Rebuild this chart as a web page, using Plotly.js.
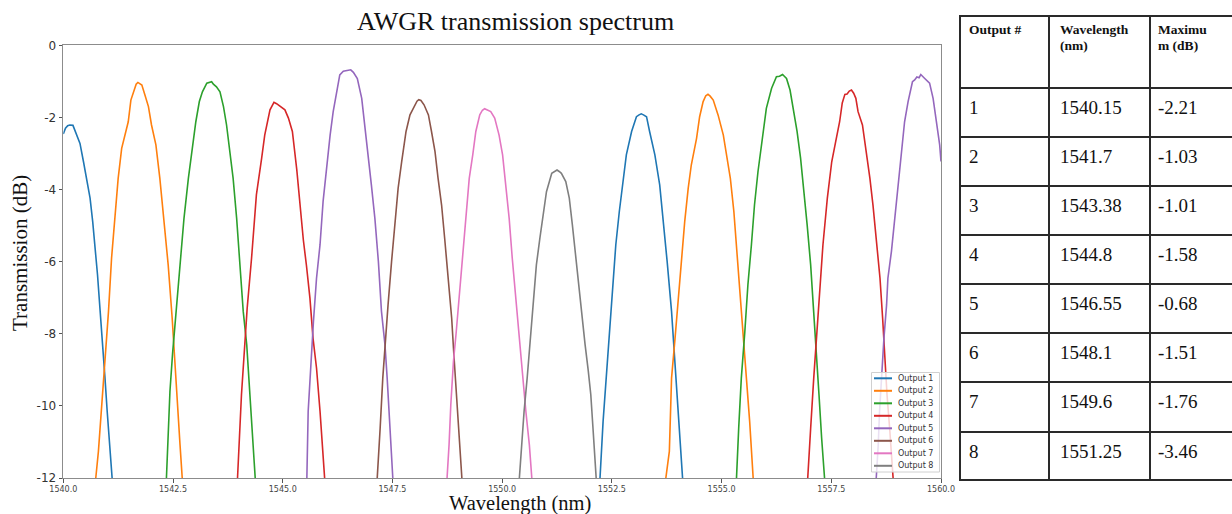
<!DOCTYPE html>
<html>
<head>
<meta charset="utf-8">
<script src="https://cdn.plot.ly/plotly-3.0.1.min.js"></script>
<style>
  html, body { margin: 0; padding: 0; background: #ffffff; }
  #chart { width: 1232px; height: 514px; }
</style>
</head>
<body>
<div id="chart"></div>
<script>
// Measured AWGR output spectra: wavelength (nm) and transmission (dB).
// A null entry separates two diffraction orders of the same output.
const out1Wl = [1540.00, 1540.05, 1540.10, 1540.15, 1540.22, 1540.29, 1540.38, 1540.46, 1540.55, 1540.61, 1540.67, 1540.72, 1540.78, 1540.84, 1540.90, 1540.95, 1541.00, 1541.06, 1541.12, 1541.17,
  null,
  1552.16, 1552.23, 1552.30, 1552.38, 1552.45, 1552.53, 1552.59, 1552.67, 1552.74, 1552.83, 1552.95, 1553.06, 1553.12, 1553.17, 1553.22, 1553.29, 1553.36, 1553.48, 1553.59, 1553.67, 1553.76, 1553.86, 1553.91, 1553.96, 1554.01, 1554.11, 1554.16];
const out1Db = [-2.46, -2.30, -2.23, -2.21, -2.22, -2.44, -2.72, -3.23, -3.87, -4.24, -4.89, -5.53, -6.37, -7.38, -8.31, -9.23, -10.15, -11.08, -12.00, -12.95,
  null,
  -12.95, -12.00, -10.43, -9.05, -7.84, -6.46, -5.53, -4.61, -3.87, -3.04, -2.39, -1.98, -1.93, -1.90, -1.93, -1.98, -2.39, -3.04, -3.87, -4.80, -6.00, -7.38, -8.31, -9.23, -10.43, -12.00, -12.90];

const out2Wl = [1540.69, 1540.74, 1540.80, 1540.87, 1540.95, 1541.03, 1541.10, 1541.18, 1541.25, 1541.33, 1541.41, 1541.48, 1541.54, 1541.61, 1541.66, 1541.70, 1541.74, 1541.79, 1541.86, 1541.94, 1542.01, 1542.11, 1542.20, 1542.29, 1542.39, 1542.48, 1542.54, 1542.60, 1542.66, 1542.71, 1542.76,
  null,
  1553.68, 1553.73, 1553.81, 1553.86, 1553.94, 1554.01, 1554.09, 1554.16, 1554.24, 1554.31, 1554.43, 1554.50, 1554.58, 1554.64, 1554.69, 1554.74, 1554.81, 1554.92, 1555.04, 1555.13, 1555.20, 1555.28, 1555.35, 1555.43, 1555.50, 1555.57, 1555.64, 1555.72, 1555.77];
const out2Db = [-12.90, -12.00, -11.26, -10.15, -8.86, -7.38, -5.90, -4.61, -3.69, -2.86, -2.49, -2.12, -1.52, -1.24, -1.08, -1.03, -1.06, -1.10, -1.38, -1.70, -2.21, -2.76, -3.69, -4.80, -6.09, -7.55, -8.85, -9.97, -11.08, -12.00, -12.90,
  null,
  -12.90, -12.00, -11.26, -9.23, -8.12, -7.01, -6.00, -4.89, -3.96, -3.32, -2.58, -1.98, -1.56, -1.40, -1.36, -1.41, -1.52, -1.93, -2.49, -3.23, -3.69, -4.61, -5.72, -6.92, -8.03, -9.23, -10.43, -12.00, -12.90];

const out3Wl = [1542.30, 1542.35, 1542.39, 1542.43, 1542.49, 1542.57, 1542.66, 1542.75, 1542.85, 1542.95, 1543.02, 1543.10, 1543.17, 1543.27, 1543.33, 1543.38, 1543.42, 1543.49, 1543.57, 1543.65, 1543.72, 1543.80, 1543.87, 1543.95, 1544.02, 1544.10, 1544.18, 1544.25, 1544.31, 1544.37, 1544.42,
  null,
  1555.29, 1555.34, 1555.39, 1555.45, 1555.53, 1555.60, 1555.68, 1555.75, 1555.83, 1555.93, 1556.02, 1556.14, 1556.25, 1556.32, 1556.36, 1556.39, 1556.43, 1556.48, 1556.56, 1556.65, 1556.72, 1556.80, 1556.87, 1556.95, 1557.03, 1557.10, 1557.16, 1557.22, 1557.28, 1557.35, 1557.40];
const out3Db = [-12.90, -12.00, -10.80, -9.60, -8.55, -7.45, -6.00, -4.80, -3.69, -2.76, -2.12, -1.56, -1.29, -1.05, -1.02, -1.01, -1.08, -1.15, -1.29, -1.70, -2.21, -2.95, -3.69, -4.80, -6.00, -7.38, -8.31, -9.69, -11.08, -12.00, -12.90,
  null,
  -12.90, -12.00, -10.62, -9.23, -7.94, -6.64, -5.53, -4.43, -3.50, -2.58, -1.75, -1.19, -0.87, -0.86, -0.83, -0.81, -0.86, -0.92, -1.24, -1.84, -2.39, -3.13, -3.96, -4.98, -6.09, -7.38, -8.31, -9.69, -10.89, -12.00, -12.90];

const out4Wl = [1543.92, 1543.97, 1544.06, 1544.15, 1544.19, 1544.29, 1544.40, 1544.52, 1544.59, 1544.71, 1544.80, 1544.86, 1544.94, 1545.05, 1545.13, 1545.22, 1545.32, 1545.39, 1545.47, 1545.54, 1545.62, 1545.69, 1545.77, 1545.85, 1545.92, 1545.96, 1546.00,
  null,
  1556.92, 1556.97, 1557.03, 1557.10, 1557.16, 1557.24, 1557.31, 1557.41, 1557.51, 1557.60, 1557.69, 1557.75, 1557.81, 1557.86, 1557.91, 1557.96, 1558.01, 1558.06, 1558.11, 1558.21, 1558.30, 1558.38, 1558.45, 1558.53, 1558.61, 1558.67, 1558.72, 1558.77, 1558.83, 1558.91, 1558.96];
const out4Db = [-12.90, -12.00, -9.69, -8.03, -7.29, -5.90, -4.15, -3.13, -2.49, -1.79, -1.58, -1.62, -1.70, -1.79, -2.02, -2.39, -3.45, -4.40, -5.40, -6.10, -7.01, -8.12, -8.95, -10.15, -11.35, -12.00, -12.80,
  null,
  -12.90, -12.00, -10.62, -9.23, -8.12, -6.92, -5.53, -4.24, -3.23, -2.67, -2.12, -1.60, -1.36, -1.35, -1.27, -1.24, -1.33, -1.47, -1.84, -2.21, -2.95, -3.69, -4.43, -5.35, -6.46, -7.57, -8.77, -9.69, -10.62, -12.00, -12.90];

const out5Wl = [1545.50, 1545.55, 1545.58, 1545.64, 1545.70, 1545.77, 1545.85, 1545.92, 1546.00, 1546.08, 1546.15, 1546.23, 1546.30, 1546.38, 1546.46, 1546.55, 1546.61, 1546.70, 1546.80, 1546.87, 1546.95, 1547.02, 1547.10, 1547.18, 1547.25, 1547.33, 1547.38, 1547.44, 1547.50, 1547.55,
  null,
  1558.48, 1558.53, 1558.57, 1558.60, 1558.64, 1558.70, 1558.76, 1558.79, 1558.87, 1558.95, 1559.02, 1559.10, 1559.17, 1559.25, 1559.35, 1559.40, 1559.45, 1559.50, 1559.54, 1559.63, 1559.74, 1559.82, 1559.89, 1559.97, 1560.00];
const out5Db = [-12.90, -12.00, -10.15, -8.77, -7.66, -6.46, -5.53, -4.33, -3.32, -2.49, -1.84, -1.29, -0.82, -0.72, -0.70, -0.68, -0.75, -0.92, -1.47, -2.21, -2.95, -3.87, -4.80, -6.00, -7.38, -8.31, -9.23, -10.62, -12.00, -12.90,
  null,
  -12.90, -12.00, -11.08, -10.15, -9.23, -8.12, -7.20, -6.46, -5.72, -4.80, -3.87, -3.04, -2.12, -1.56, -1.01, -0.96, -0.88, -0.90, -0.81, -0.92, -1.05, -1.47, -2.02, -2.76, -3.22];

const out6Wl = [1547.11, 1547.16, 1547.22, 1547.28, 1547.33, 1547.40, 1547.48, 1547.56, 1547.63, 1547.71, 1547.81, 1547.90, 1548.01, 1548.06, 1548.10, 1548.15, 1548.22, 1548.32, 1548.39, 1548.47, 1548.54, 1548.62, 1548.69, 1548.77, 1548.85, 1548.90, 1548.96, 1549.02, 1549.08, 1549.13];
const out6Db = [-12.90, -12.00, -10.62, -9.23, -8.31, -7.20, -6.00, -4.89, -3.96, -3.23, -2.39, -1.93, -1.65, -1.55, -1.51, -1.53, -1.65, -1.93, -2.39, -2.95, -3.69, -4.43, -5.35, -6.46, -7.57, -8.58, -9.69, -10.89, -12.00, -12.90];

const out7Wl = [1548.70, 1548.75, 1548.79, 1548.83, 1548.89, 1548.95, 1549.02, 1549.10, 1549.18, 1549.25, 1549.33, 1549.40, 1549.49, 1549.55, 1549.60, 1549.65, 1549.74, 1549.83, 1549.93, 1550.01, 1550.08, 1550.16, 1550.23, 1550.31, 1550.39, 1550.46, 1550.54, 1550.62, 1550.68, 1550.73];
const out7Db = [-12.90, -12.00, -11.08, -9.97, -8.77, -8.00, -7.01, -5.72, -4.61, -3.69, -3.04, -2.39, -1.93, -1.80, -1.76, -1.79, -1.84, -2.02, -2.49, -3.04, -3.87, -4.80, -5.90, -7.01, -8.12, -9.23, -10.15, -11.08, -12.00, -12.90];

const out8Wl = [1550.34, 1550.39, 1550.44, 1550.50, 1550.57, 1550.65, 1550.72, 1550.78, 1550.86, 1550.94, 1551.01, 1551.13, 1551.19, 1551.25, 1551.30, 1551.35, 1551.45, 1551.53, 1551.60, 1551.68, 1551.76, 1551.83, 1551.89, 1551.96, 1552.02, 1552.07, 1552.14, 1552.19];
const out8Db = [-12.90, -12.00, -11.08, -10.15, -9.23, -8.12, -7.01, -6.09, -5.35, -4.61, -4.06, -3.55, -3.50, -3.46, -3.50, -3.55, -3.78, -4.24, -4.98, -5.90, -6.92, -7.75, -8.30, -9.00, -9.69, -10.62, -12.00, -12.90];

const seriesNames = ['Output 1', 'Output 2', 'Output 3', 'Output 4', 'Output 5', 'Output 6', 'Output 7', 'Output 8'];
const seriesWl = [out1Wl, out2Wl, out3Wl, out4Wl, out5Wl, out6Wl, out7Wl, out8Wl];
const seriesDb = [out1Db, out2Db, out3Db, out4Db, out5Db, out6Db, out7Db, out8Db];

// Axis ticks
const xTickVals = [1540, 1542.5, 1545, 1547.5, 1550, 1552.5, 1555, 1557.5, 1560];
const xTickText = ['1540.0', '1542.5', '1545.0', '1547.5', '1550.0', '1552.5', '1555.0', '1557.5', '1560.0'];
const yTickVals = [0, -2, -4, -6, -8, -10, -12];
const yTickText = ['0', '-2', '-4', '-6', '-8', '-10', '-12'];

// Peak table
const tableHeader = ['Output #', 'Wavelength<br>(nm)', 'Maximu<br>m (dB)'];
const tableOutput = ['1', '2', '3', '4', '5', '6', '7', '8'];
const tableWavelength = ['1540.15', '1541.7', '1543.38', '1544.8', '1546.55', '1548.1', '1549.6', '1551.25'];
const tableMaximum = ['-2.21', '-1.03', '-1.01', '-1.58', '-0.68', '-1.51', '-1.76', '-3.46'];

// ---- styling and geometry ----
const W = 1232, H = 514;
const px = x => x / W;
const py = y => 1 - y / H;
const palette = ['#1f77b4', '#ff7f0e', '#2ca02c', '#d62728', '#9467bd', '#8c564b', '#e377c2', '#7f7f7f'];
const serif = 'Liberation Serif, Times New Roman, serif';
const sans = 'DejaVu Sans, sans-serif';

const traces = seriesNames.map((name, i) => ({
  type: 'scatter',
  mode: 'lines',
  name: name,
  x: seriesWl[i],
  y: seriesDb[i],
  line: { color: palette[i], width: 1.6 },
  connectgaps: false,
  showlegend: false,
  hoverinfo: 'x+y+name'
}));

const shapes = [];
const annotations = [];

// Titles
annotations.push({ xref: 'paper', yref: 'paper', x: px(515), y: py(22), xanchor: 'center', yanchor: 'middle',
  text: 'AWGR transmission spectrum', showarrow: false, font: { family: serif, size: 26, color: '#111' } });
annotations.push({ xref: 'paper', yref: 'paper', x: px(519.5), y: py(503), xanchor: 'center', yanchor: 'middle',
  text: 'Wavelength (nm)', showarrow: false, font: { family: serif, size: 20.5, color: '#111' } });
annotations.push({ xref: 'paper', yref: 'paper', x: px(20), y: py(253), xanchor: 'center', yanchor: 'middle',
  text: 'Transmission (dB)', textangle: -90, showarrow: false, font: { family: serif, size: 21, color: '#111' } });

// Legend box inside the plot, lower right
const legLeft = 871.5, legRight = 939.5, legTop = 372.5, legBottom = 472;
const legFirstY = 378.3, legStep = 12.5;
shapes.push({ type: 'rect', xref: 'paper', yref: 'paper', x0: px(legLeft), x1: px(legRight), y0: py(legBottom), y1: py(legTop),
  fillcolor: 'rgba(255,255,255,0.8)', line: { color: '#d0d0d0', width: 1 }, layer: 'above' });
seriesNames.forEach((name, i) => {
  const yy = legFirstY + i * legStep;
  shapes.push({ type: 'line', xref: 'paper', yref: 'paper', x0: px(874), x1: px(892), y0: py(yy), y1: py(yy),
    line: { color: palette[i], width: 2 }, layer: 'above' });
  annotations.push({ xref: 'paper', yref: 'paper', x: px(896.5), y: py(yy), xanchor: 'left', yanchor: 'middle',
    text: name, showarrow: false, font: { family: sans, size: 8, color: '#333' }, borderpad: 0 });
});

// Table to the right of the plot
const tableColX = [960, 1049, 1150];
const tableTextX = [969, 1060, 1158];
const tableRowY = [16, 88, 137, 186, 235, 284, 333, 382, 432, 480];
const tableLine = { color: '#2a2a2a', width: 2 };
tableRowY.forEach(y => {
  shapes.push({ type: 'line', xref: 'paper', yref: 'paper', x0: px(959), x1: 1, y0: py(y), y1: py(y), line: tableLine, layer: 'above' });
});
tableColX.forEach(x => {
  shapes.push({ type: 'line', xref: 'paper', yref: 'paper', x0: px(x), x1: px(x), y0: py(tableRowY[0]), y1: py(tableRowY[tableRowY.length - 1]), line: tableLine, layer: 'above' });
});
tableHeader.forEach((h, c) => {
  h.split('<br>').forEach((line, k) => {
    annotations.push({ xref: 'paper', yref: 'paper', x: px(tableTextX[c] - 1), y: py(29.5 + k * 15.5), xanchor: 'left', yanchor: 'middle',
      text: '<b>' + line + '</b>', showarrow: false, font: { family: serif, size: 13.5, color: '#111' }, borderpad: 0 });
  });
});
const tableCols = [tableOutput, tableWavelength, tableMaximum];
tableOutput.forEach((_, r) => {
  const yy = tableRowY[r + 1] + 19;
  tableCols.forEach((col, c) => {
    annotations.push({ xref: 'paper', yref: 'paper', x: px(tableTextX[c] - 1), y: py(yy), xanchor: 'left', yanchor: 'middle',
      text: col[r], showarrow: false, font: { family: serif, size: 19, color: '#111' }, borderpad: 0 });
  });
});

const axisCommon = {
  showline: true, linecolor: '#8c8c8c', linewidth: 1.2, mirror: true,
  ticks: 'outside', ticklen: 3.5, tickwidth: 1, tickcolor: '#555',
  showgrid: false, zeroline: false, fixedrange: true
};

const layout = {
  width: W, height: H,
  margin: { l: 0, r: 0, t: 0, b: 0, autoexpand: false },
  paper_bgcolor: '#ffffff', plot_bgcolor: '#ffffff',
  showlegend: false,
  xaxis: Object.assign({}, axisCommon, {
    domain: [px(63.3), px(941)], range: [1540, 1560],
    tickmode: 'array', tickvals: xTickVals, ticktext: xTickText,
    tickfont: { family: sans, size: 8, color: '#444' }
  }),
  yaxis: Object.assign({}, axisCommon, {
    domain: [py(478), py(45.3)], range: [-12, 0],
    tickmode: 'array', tickvals: yTickVals, ticktext: yTickText,
    tickfont: { family: sans, size: 12, color: '#333' }
  }),
  shapes: shapes,
  annotations: annotations
};

Plotly.newPlot('chart', traces, layout, { displayModeBar: false, staticPlot: true });
</script>
</body>
</html>
